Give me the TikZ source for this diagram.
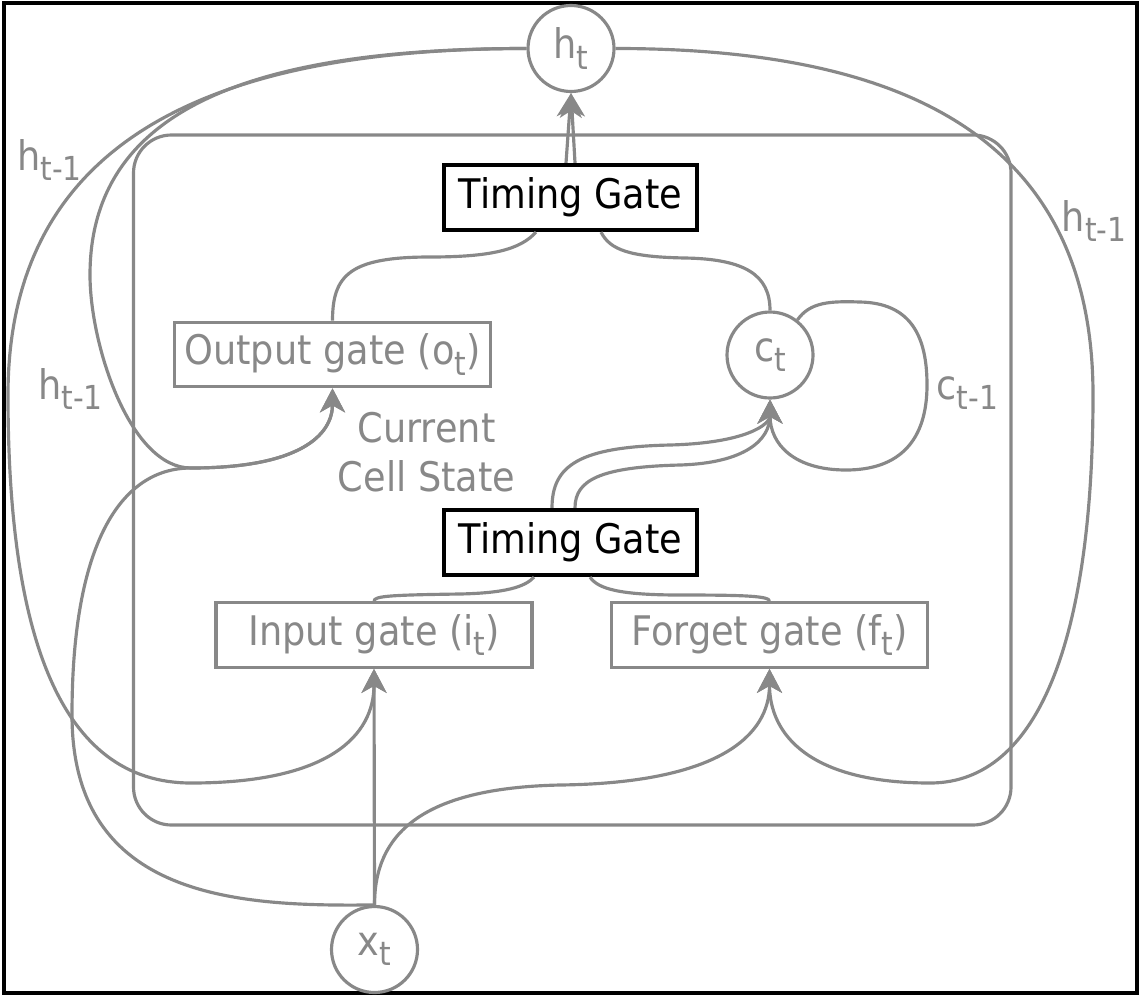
\documentclass[tikz,border=0pt]{standalone}
\usepackage{fontspec}
\setmainfont{DejaVu Sans}[FakeStretch=0.9]
\usepackage{tikz}
\usetikzlibrary{arrows.meta,positioning,calc}
\definecolor{lstmgray}{HTML}{888888}
\newcommand{\lsub}[1]{\raisebox{-3pt}{\fontsize{9.4}{10}\selectfont#1}}

\begin{document}
\begin{tikzpicture}[>={Stealth[length=2.4mm,width=2.5mm,inset=0.7mm]}, font=\fontsize{11.6}{14}\selectfont,
    wire/.style={draw=lstmgray, line width=0.9pt},
    gatebox/.style={rectangle, draw=lstmgray, line width=0.9pt, text=lstmgray, minimum width=3.16cm, minimum height=0.645cm, inner sep=0pt},
    timingbox/.style={rectangle, draw=black, line width=1.2pt, text=black, minimum width=2.53cm, minimum height=0.65cm, inner sep=0pt},
    statenode/.style={circle, draw=lstmgray, line width=0.9pt, text=lstmgray, minimum size=0.86cm, inner sep=0pt},
    lbl/.style={text=lstmgray}]
    \useasboundingbox (0,0) rectangle (11.41,9.95);
    \draw[line width=1pt] (0.04,0.02) rectangle (11.37,9.92);

    % cell boundary
    \draw[wire, rounded corners=0.38cm] (1.335,1.70) rectangle (10.11,8.60);

    \node[statenode] (ht) at (5.71,9.465) {h\lsub{t}};
    \node[timingbox] (tg1) at (5.705,7.975) {Timing Gate};
    \node[gatebox] (og) at (3.325,6.405) {Output gate (o\lsub{t})};
    \node[statenode] (ct) at (7.70,6.40) {c\lsub{t}};
    \node[timingbox] (tg2) at (5.705,4.525) {Timing Gate};
    \node[gatebox] (ig) at (3.74,3.60) {Input gate (i\lsub{t})};
    \node[gatebox] (fg) at (7.695,3.60) {Forget gate (f\lsub{t})};
    \node[statenode] (xt) at (3.745,0.455) {x\lsub{t}};

    \node[lbl] (hprev1) at (0.495,8.35) {h\lsub{t-1}};
    \node[lbl] (hprev2) at (0.705,6.06) {h\lsub{t-1}};
    \node[lbl] (hprev3) at (10.94,7.74) {h\lsub{t-1}};
    \node[lbl] (cprev) at (9.675,6.02) {c\lsub{t-1}};
    \node[lbl, align=center] (cs) at (4.265,5.425) {Current\\Cell State};

    % output h_t
    \draw[wire,->] ($(tg1.north)+(-0.045,0)$) -- (ht.south);
    \draw[wire,->] ($(tg1.north)+(0.045,0)$) -- (ht.south);
    \draw[wire] (og.north) .. controls (3.325,7.2) and (3.5,7.38) .. (4.3,7.38)
        .. controls (4.9,7.38) and (5.2,7.45) .. ($(tg1.south)+(-0.345,0)$);
    \draw[wire] (ct.north) .. controls (7.70,7.2) and (7.45,7.36) .. (6.85,7.37)
        .. controls (6.3,7.38) and (6.1,7.45) .. ($(tg1.south)+(0.305,0)$);

    % h_{t-1} loops
    \draw[wire,->] (ht.west) .. controls (2.2,9.465) and (0.08,8.6) .. (0.08,6.0)
        .. controls (0.08,3.6) and (0.6,2.12) .. (1.91,2.12)
        .. controls (3.3,2.12) and (3.74,2.6) .. (ig.south);
    \draw[wire,->] (ht.west) .. controls (2.6,9.465) and (0.9,8.9) .. (0.9,7.2)
        .. controls (0.9,6.5) and (1.3,5.27) .. (1.91,5.27)
        .. controls (3.0,5.27) and (3.325,5.6) .. (og.south);
    \draw[wire,->] (ht.east) .. controls (9.0,9.465) and (10.93,8.6) .. (10.93,6.0)
        .. controls (10.93,3.6) and (10.4,2.12) .. (9.3,2.12)
        .. controls (8.1,2.12) and (7.695,2.6) .. (fg.south);

    % input x_t
    \draw[wire,->] (xt.north) -- (ig.south);
    \draw[wire,->] (xt.north) .. controls (2.4,0.885) and (0.72,0.95) .. (0.72,2.8)
        .. controls (0.72,4.5) and (1.2,5.27) .. (1.91,5.27)
        .. controls (3.0,5.27) and (3.325,5.6) .. (og.south);
    \draw[wire,->] (xt.north) .. controls (3.745,1.6) and (4.2,2.07) .. (5.6,2.1)
        .. controls (7.2,2.12) and (7.695,2.6) .. (fg.south);

    % gates into timing gate
    \draw[wire] (ig.north) .. controls (3.74,3.99) and (3.9,4.0) .. (4.6,4.01)
        .. controls (5.05,4.02) and (5.25,4.08) .. ($(tg2.south)+(-0.365,0)$);
    \draw[wire] ($(tg2.south)+(0.195,0)$) .. controls (5.98,4.06) and (6.2,4.0) .. (6.8,4.0)
        .. controls (7.45,4.0) and (7.695,3.99) .. (fg.north);

    % current cell state
    \draw[wire,->] ($(tg2.north)+(-0.185,0)$) .. controls (5.52,5.3) and (5.8,5.48) .. (6.7,5.5)
        .. controls (7.45,5.52) and (7.70,5.7) .. (ct.south);
    \draw[wire,->] ($(tg2.north)+(0.045,0)$) .. controls (5.75,5.15) and (6.0,5.28) .. (6.8,5.3)
        .. controls (7.45,5.32) and (7.70,5.55) .. (ct.south);
    \draw[wire,->] (ct.52) .. controls (8.1,6.93) and (8.3,6.94) .. (8.6,6.93)
        .. controls (9.1,6.92) and (9.27,6.6) .. (9.27,6.1)
        .. controls (9.27,5.55) and (9.0,5.25) .. (8.46,5.25)
        .. controls (7.95,5.25) and (7.70,5.5) .. (ct.south);
\end{tikzpicture}
\end{document}
